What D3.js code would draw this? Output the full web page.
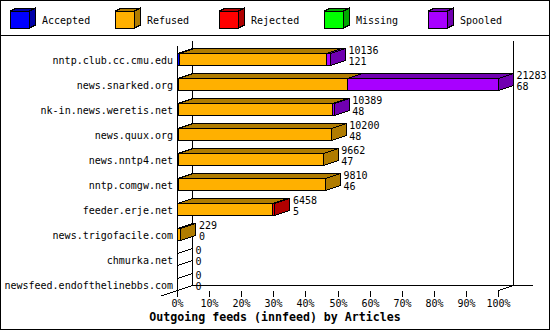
<!DOCTYPE html>
<html><head><meta charset="utf-8">
<script src="https://cdn.jsdelivr.net/npm/d3@7"></script>
<style>body{margin:0;background:#fff} svg{display:block}</style>
</head><body><svg id="c" width="550" height="330"></svg>
<script>
const categories = ["nntp.club.cc.cmu.edu","news.snarked.org","nk-in.news.weretis.net","news.quux.org","news.nntp4.net","nntp.comgw.net","feeder.erje.net","news.trigofacile.com","chmurka.net","newsfeed.endofthelinebbs.com"];
const offered  = [10136, 21283, 10389, 10200, 9662, 9810, 6458, 229, 0, 0];
const accepted = [121, 68, 48, 48, 47, 46, 5, 0, 0, 0];
const refused  = [9750, 11230, 10241, 10152, 9615, 9764, 6288, 229, 0, 0];
const rejected = [0, 0, 0, 0, 0, 0, 165, 0, 0, 0];
const missing  = [0, 0, 0, 0, 0, 0, 0, 0, 0, 0];
const spooled  = [265, 9985, 100, 0, 0, 0, 0, 0, 0, 0];
const seriesNames = ["Accepted","Refused","Rejected","Missing","Spooled"];
const frontColors = ["#0000ff","#ffb000","#ff0000","#00ff00","#a800ff"];
const sideColors  = ["#0000a8","#b07c00","#b00000","#00a800","#7000b0"];
const tickValues = [0,0.1,0.2,0.3,0.4,0.5,0.6,0.7,0.8,0.9,1];
const tickLabels = ["0%","10%","20%","30%","40%","50%","60%","70%","80%","90%","100%"];
const title = "Outgoing feeds (innfeed) by Articles";

const series = [accepted, refused, rejected, missing, spooled];
const svg = d3.select("#c");
const FONT = "'DejaVu Sans Mono', monospace";
const dx = 15, dy = 5;
const maxVal = d3.max(offered);
const x = d3.scaleLinear().domain([0, 1]).range([177.5, 498.5]);
const y = d3.scaleBand().domain(categories).range([47, 297]);
const barH = 12;

// frame
svg.append("rect").attr("x",0.5).attr("y",0.5).attr("width",549).attr("height",329)
  .attr("fill","#fff").attr("stroke","#000");
svg.append("line").attr("x1",0).attr("x2",550).attr("y1",35.5).attr("y2",35.5).attr("stroke","#000");

// legend
const lg = svg.append("g").attr("shape-rendering","crispEdges");
seriesNames.forEach((name, i) => {
  const x0 = Math.round(10 + 104.5 * i) + 0.5;
  const g = lg.append("g");
  g.append("polygon").attr("points", [[x0+19,11],[x0+25,8],[x0+25,25],[x0+19,28]].join(" "))
    .attr("fill", sideColors[i]).attr("stroke","#000");
  g.append("polygon").attr("points", [[x0,11],[x0+19,11],[x0+25,8],[x0+6,8]].join(" "))
    .attr("fill", sideColors[i]).attr("stroke","#000");
  g.append("rect").attr("x",x0).attr("y",11).attr("width",19).attr("height",17)
    .attr("fill", frontColors[i]).attr("stroke","#000");
  svg.append("text").attr("x", x0 + 31.5).attr("y", 24).attr("font-family",FONT)
    .attr("font-size","10px").attr("fill","#000").text(name);
});

// axes / walls
const ax = svg.append("g").attr("stroke","#000").attr("shape-rendering","crispEdges").attr("fill","none");
const fx0 = x(0), fx1 = x(1);
const floorF = 290.5, floorB = floorF - dy, topB = 40.5;
ax.append("line").attr("x1",fx0+dx).attr("x2",fx0+dx).attr("y1",topB).attr("y2",floorB);
ax.append("line").attr("x1",fx1+dx).attr("x2",fx1+dx).attr("y1",topB).attr("y2",floorB);
ax.append("line").attr("x1",fx0+dx).attr("x2",fx1+dx+19).attr("y1",floorB).attr("y2",floorB);
ax.append("line").attr("x1",fx0-16).attr("x2",fx0+dx).attr("y1",floorF+16*dy/dx).attr("y2",floorB);
ax.append("line").attr("x1",fx1).attr("x2",fx1+dx).attr("y1",floorF).attr("y2",floorB);
ax.append("line").attr("x1",fx0).attr("x2",fx0).attr("y1",topB+dy).attr("y2",floorF);

// ticks
tickValues.forEach((t, i) => {
  const tx = Math.round(x(t) - 0.5) + 0.5;
  ax.append("line").attr("x1",tx).attr("x2",tx).attr("y1",floorF).attr("y2",296.5);
  svg.append("text").attr("x", tx).attr("y", 307).attr("text-anchor","middle")
    .attr("font-family",FONT).attr("font-size","10px").attr("fill","#000").text(tickLabels[i]);
});

// bars
const bars = svg.append("g").attr("shape-rendering","crispEdges").attr("stroke","#000");
categories.forEach((cat, r) => {
  const c = y(cat) + y.bandwidth()/2;
  const t = c - barH/2, b = c + barH/2;
  let cum = 0;
  let drew = false;
  series.forEach((s, k) => {
    const v = s[r];
    if (!v) return;
    const xa = Math.round(x(cum / maxVal) - 0.5) + 0.5;
    cum += v;
    const xb = Math.round(x(cum / maxVal) - 0.5) + 0.5;
    drew = true;
    bars.append("polygon").attr("points", [[xb,t],[xb+dx,t-dy],[xb+dx,b-dy],[xb,b]].join(" "))
      .attr("fill", sideColors[k]);
    bars.append("polygon").attr("points", [[xa,t],[xb,t],[xb+dx,t-dy],[xa+dx,t-dy]].join(" "))
      .attr("fill", sideColors[k]);
    bars.append("rect").attr("x", xa).attr("y", t).attr("width", Math.max(0, xb - xa)).attr("height", barH)
      .attr("fill", frontColors[k]);
  });
  if (!drew) {
    bars.append("polygon").attr("points", [[fx0,t],[fx0+dx,t-dy],[fx0+dx,b-dy],[fx0,b]].join(" "))
      .attr("fill","none");
  }
  const lx = x(offered[r] / maxVal) + dx + 3;
  svg.append("text").attr("x", lx).attr("y", c - 6).attr("font-family",FONT)
    .attr("font-size","10px").attr("fill","#000").text(offered[r]);
  svg.append("text").attr("x", lx).attr("y", c + 5.3).attr("font-family",FONT)
    .attr("font-size","10px").attr("fill","#000").text(accepted[r]);
  svg.append("text").attr("x", 173).attr("y", c + 4).attr("text-anchor","end").attr("font-family",FONT)
    .attr("font-size","10px").attr("fill","#000").text(cat);
});

// title
svg.append("text").attr("x", 275).attr("y", 321).attr("text-anchor","middle")
  .attr("font-family",FONT).attr("font-weight","bold").attr("font-size","11.6px")
  .attr("fill","#000").text(title);
</script></body></html>
